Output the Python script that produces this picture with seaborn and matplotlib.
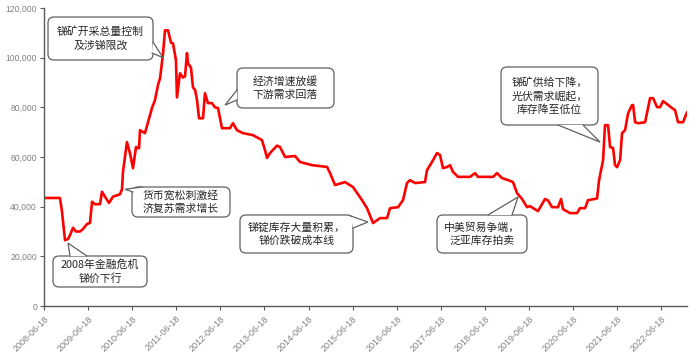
import pandas as pd
import matplotlib.pyplot as plt
import matplotlib.dates as mdates
from matplotlib.patches import FancyBboxPatch, Polygon
import seaborn as sns

# Antimony price readings (date, yuan/t)
dates = ['2008-06-18', '2008-10-28', '2008-11-14', '2008-12-09', '2009-01-03', '2009-01-19',
         '2009-02-13', '2009-03-10', '2009-04-12', '2009-05-07', '2009-06-09', '2009-07-04',
         '2009-07-21', '2009-08-14', '2009-09-25', '2009-10-11', '2009-11-05', '2009-12-08',
         '2010-01-10', '2010-03-09', '2010-03-26', '2010-04-03', '2010-05-06', '2010-05-31',
         '2010-06-25', '2010-07-20', '2010-08-14', '2010-08-22', '2010-10-02', '2010-10-27',
         '2010-11-29', '2010-12-24', '2011-01-18', '2011-02-04', '2011-03-01', '2011-03-17',
         '2011-04-11', '2011-05-06', '2011-05-22', '2011-06-16', '2011-06-24', '2011-07-19',
         '2011-08-13', '2011-08-30', '2011-09-15', '2011-09-24', '2011-10-18', '2011-11-04',
         '2011-11-21', '2011-12-07', '2011-12-24', '2012-01-26', '2012-02-11', '2012-03-07',
         '2012-04-09', '2012-05-04', '2012-05-29', '2012-07-01', '2012-09-05', '2012-09-30',
         '2012-11-02', '2012-12-22', '2013-03-15', '2013-05-28', '2013-06-22', '2013-07-09',
         '2013-08-03', '2013-09-30', '2013-10-25', '2013-12-05', '2014-02-26', '2014-04-08',
         '2014-07-17', '2014-11-18', '2014-12-13', '2015-01-23', '2015-04-16', '2015-06-21',
         '2015-09-04', '2015-10-15', '2015-12-04', '2016-01-31', '2016-03-29', '2016-04-23',
         '2016-06-28', '2016-08-08', '2016-09-10', '2016-10-05', '2016-11-16', '2017-02-06',
         '2017-02-23', '2017-04-05', '2017-05-17', '2017-06-11', '2017-07-05', '2017-08-08',
         '2017-09-02', '2017-09-26', '2017-11-07', '2018-02-14', '2018-03-28', '2018-04-21',
         '2018-08-24', '2018-09-26', '2018-11-06', '2018-12-26', '2019-02-05', '2019-03-10',
         '2019-04-21', '2019-06-01', '2019-06-26', '2019-08-31', '2019-10-12', '2019-10-28',
         '2019-11-22', '2019-12-25', '2020-02-13', '2020-03-09', '2020-03-25', '2020-05-22',
         '2020-07-19', '2020-08-13', '2020-09-24', '2020-10-18', '2021-01-01', '2021-01-18',
         '2021-02-20', '2021-03-08', '2021-04-02', '2021-04-19', '2021-05-14', '2021-05-30',
         '2021-06-16', '2021-07-11', '2021-07-27', '2021-08-21', '2021-09-15', '2021-10-18',
         '2021-10-27', '2021-11-12', '2021-12-07', '2022-02-03', '2022-02-20', '2022-03-16',
         '2022-04-10', '2022-05-13', '2022-06-07', '2022-07-02', '2022-08-04', '2022-09-14',
         '2022-10-09', '2022-11-03', '2022-12-14', '2023-01-16']
prices = [43500, 43500, 38000, 26500, 27000, 28500,
          31500, 30000, 30000, 31000, 33000, 33500,
          42000, 41000, 41000, 46000, 44000, 41500,
          44000, 45000, 47000, 54000, 66000, 61500,
          55500, 64000, 63500, 70800, 69600, 74000,
          79700, 82900, 89000, 91700, 101800, 111000,
          111000, 106000, 105800, 99000, 84000, 93700,
          92000, 92500, 101800, 97700, 96000, 88000,
          87000, 83000, 75600, 75600, 85700, 81700,
          81700, 80000, 79700, 71600, 71600, 73600,
          70800, 69600, 68800, 66800, 62800, 59600,
          61600, 64600, 64000, 60000, 60400, 58000,
          56700, 56000, 53500, 48700, 49900, 47900,
          42600, 39400, 33400, 35400, 35400, 39400,
          39800, 42600, 49500, 50700, 49500, 49900,
          54700, 58000, 61600, 60800, 55500, 56000,
          56700, 54000, 52000, 52000, 53500, 52000,
          52000, 53500, 51500, 50700, 49900, 45500,
          43100, 39800, 40200, 38200, 41800, 43100,
          42500, 39800, 39800, 43100, 39000, 37400,
          37400, 39400, 39400, 42600, 43300, 50700,
          58800, 72800, 72800, 64000, 63600, 56700,
          55900, 58800, 69600, 70800, 77600, 80900,
          80900, 74000, 73600, 74000, 78000, 83700,
          83700, 80100, 80100, 82500, 81300, 79700,
          78900, 74000, 74000, 78000]

tick_dates = ['%d-06-18' % y for y in range(2008, 2023)]

# callout texts and the points they point at
notes = ['锑矿开采总量控制\n及涉锑限改', '货币宽松刺激经\n济复苏需求增长', '2008年金融危机\n锑价下行',
         '经济增速放缓\n下游需求回落', '锑锭库存大量积累，\n锑价跌破成本线', '中美贸易争端，\n泛亚库存拍卖',
         '锑矿供给下降，\n光伏需求崛起，\n库存降至低位']
note_dates = ['2011-03-01', '2010-04-20', '2009-01-03', '2012-07-26', '2015-10-23', '2019-03-19', '2021-01-26']
note_values = [100000, 47000, 25300, 80900, 33800, 43900, 66000]
# callout layout in pixels from the top-left: box (x0, y0, x1, y1), tail base points
note_box = [(48, 17, 153, 60), (132, 187, 230, 217), (53, 256, 147, 287), (237, 68, 334, 108),
            (240, 215, 353, 253), (437, 215, 527, 253), (501, 67, 598, 125)]
note_base = [((153, 42), (152, 53)), ((133, 192), (142, 187)), ((70, 256), (87, 256)),
             ((237, 90), (237, 100)), ((351, 216), (353, 228)), ((488, 215), (512, 215)),
             ((558, 125), (583, 125))]

df = pd.DataFrame({'date': pd.to_datetime(dates), 'price': prices})

sns.set_style('white')
plt.rcParams['font.family'] = ['Noto Sans CJK SC', 'DejaVu Sans']

W, H = 700, 352
fig = plt.figure(figsize=(W / 100, H / 100), dpi=100)
ax = fig.add_axes([44 / W, 46 / H, 643 / W, 298 / H])

sns.lineplot(data=df, x='date', y='price', color='#ff0000', linewidth=1.9, ax=ax)

ax.set_ylim(0, 120000)
ax.set_xlim(pd.Timestamp('2008-06-18'), pd.Timestamp('2023-01-16'))
ax.set_yticks(range(0, 120001, 20000))
ax.set_yticklabels(['{:,}'.format(v) for v in range(0, 120001, 20000)])
ax.set_xticks(pd.to_datetime(tick_dates))
ax.set_xticklabels(tick_dates, rotation=45, ha='right', rotation_mode='anchor')
ax.set_xlabel('')
ax.set_ylabel('')

for lab in ax.get_xticklabels():
    lab.set_fontfamily('Liberation Sans')
    lab.set_fontsize(6.5)
    lab.set_color('#808080')
for lab in ax.get_yticklabels():
    lab.set_fontfamily('Liberation Sans')
    lab.set_fontsize(6.2)
    lab.set_color('#808080')

sns.despine(ax=ax)
for s in ['left', 'bottom']:
    ax.spines[s].set_color('#595959')
    ax.spines[s].set_linewidth(1.0)
ax.tick_params(axis='both', which='both', length=3, width=0.8, color='#595959', direction='out',
               bottom=True, left=True, pad=2)
ax.tick_params(axis='x', pad=3)

# callouts, drawn in figure inches
inch = fig.dpi_scale_trans
to_in = lambda p: (p[0] / 100, (H - p[1]) / 100)
edge = '#606060'
for txt, d, v, box, base in zip(notes, note_dates, note_values, note_box, note_base):
    x0, y0, x1, y1 = box
    patch = FancyBboxPatch(to_in((x0, y1)), (x1 - x0) / 100, (y1 - y0) / 100,
                           boxstyle='round,pad=0,rounding_size=0.06', transform=inch,
                           fc='white', ec=edge, lw=0.9, zorder=5, clip_on=False)
    fig.add_artist(patch)
    tip_px = ax.transData.transform((mdates.date2num(pd.Timestamp(d)), v))
    tip = inch.inverted().transform(tip_px)
    b1, b2 = to_in(base[0]), to_in(base[1])
    fig.add_artist(Polygon([b1, tip, b2], closed=True, transform=inch, fc='white', ec='none',
                           lw=0, zorder=6, clip_on=False))
    fig.add_artist(plt.Line2D([b1[0], tip[0], b2[0]], [b1[1], tip[1], b2[1]], transform=inch,
                              color=edge, lw=0.9, zorder=7, solid_joinstyle='miter'))
    cx, cy = to_in(((x0 + x1) / 2, (y0 + y1) / 2))
    fig.text(cx, cy, txt, transform=inch, ha='center', va='center', fontsize=7.8,
             color='#262626', linespacing=1.4, fontweight='medium', zorder=8)

fig.savefig('out.png', dpi=100)
